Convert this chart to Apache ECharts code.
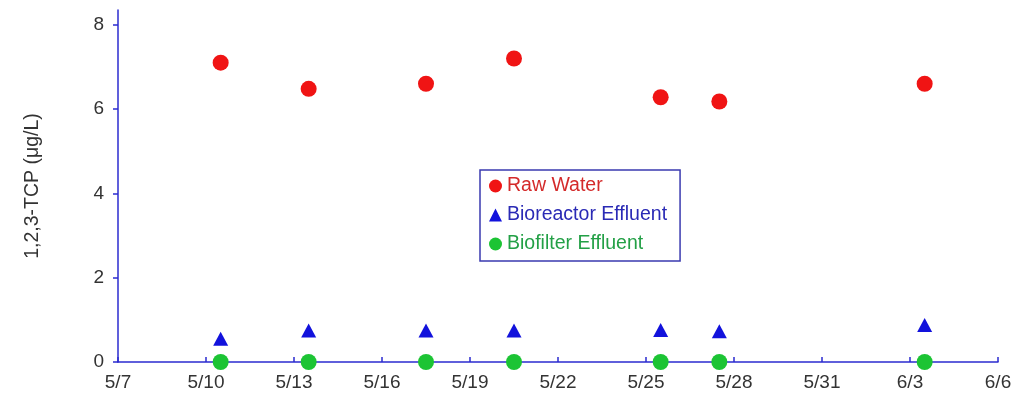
<!DOCTYPE html>
<html><head><meta charset="utf-8">
<script src="https://cdn.jsdelivr.net/npm/echarts@6/dist/echarts.min.js"></script>
<style>html,body{margin:0;padding:0;background:#fff}#c{width:1015px;height:396px}</style>
</head><body><div id="c"></div>
<script>
// sampling dates (month/day), samples taken around midday
const sampleDates = ['5/10','5/13','5/17','5/20','5/25','5/27','6/3'];
const sampleHour = 12;
const rawWater = [7.1, 6.48, 6.6, 7.2, 6.28, 6.18, 6.6];
const bioreactorEffluent = [0.55, 0.75, 0.75, 0.75, 0.76, 0.73, 0.88];
const biofilterEffluent = [0, 0, 0, 0, 0, 0, 0];
const xTickLabels = ['5/7','5/10','5/13','5/16','5/19','5/22','5/25','5/28','5/31','6/3','6/6'];
const yTickValues = [0, 2, 4, 6, 8];
const startDate = '5/7';

function dayOffset(md) {
  const [m, d] = md.split('/').map(Number);
  const [m0, d0] = startDate.split('/').map(Number);
  return (Date.UTC(2000, m - 1, d) - Date.UTC(2000, m0 - 1, d0)) / 86400000;
}
const xs = sampleDates.map(d => dayOffset(d) + sampleHour / 24);
const pts = arr => arr.map((v, i) => [xs[i], v]);

const blue = '#2b2bcf';
const font = 'Liberation Sans, Arial';
const chart = echarts.init(document.getElementById('c'));
chart.setOption({
  animation: false,
  backgroundColor: '#fff',
  grid: { left: 118, right: 17, top: 10, bottom: 34 },
  xAxis: {
    type: 'value', min: 0, max: 30, interval: 3,
    axisLine: { lineStyle: { color: blue, width: 1.5 } },
    axisTick: { show: true, inside: true, length: 5, lineStyle: { color: blue, width: 1.5 } },
    splitLine: { show: false },
    axisLabel: { color: '#333', fontSize: 19, fontFamily: font, margin: 11,
      formatter: v => xTickLabels[Math.round(v / 3)] || '' }
  },
  yAxis: {
    type: 'value', min: 0, max: 8.35,
    name: '1,2,3-TCP (μg/L)', nameLocation: 'middle', nameGap: 75,
    nameTextStyle: { color: '#333', fontSize: 19.5, fontFamily: font },
    axisLine: { show: true, lineStyle: { color: blue, width: 1.5 } },
    axisTick: { show: true, length: 5, customValues: yTickValues, lineStyle: { color: blue, width: 1.5 } },
    splitLine: { show: false },
    axisLabel: { color: '#333', fontSize: 19, fontFamily: font, margin: 14,
      customValues: yTickValues }
  },
  legend: {
    orient: 'vertical', left: 480, top: 170,
    borderColor: '#3a3ab0', borderWidth: 1.5, padding: [6, 13, 7, 9],
    itemGap: 9, itemWidth: 13, itemHeight: 13,
    textStyle: { fontSize: 19.5, fontFamily: font, padding: [0, 0, 0, 0] },
    data: [
      { name: 'Raw Water', textStyle: { color: '#d42a2a' } },
      { name: 'Bioreactor Effluent', textStyle: { color: '#2a2ab5' } },
      { name: 'Biofilter Effluent', textStyle: { color: '#23a046' } }
    ]
  },
  series: [
    { name: 'Raw Water', type: 'scatter', symbol: 'circle', symbolSize: 16,
      itemStyle: { color: '#f01414', opacity: 1 }, data: pts(rawWater) },
    { name: 'Bioreactor Effluent', type: 'scatter', symbol: 'triangle', symbolSize: [15, 14],
      itemStyle: { color: '#1212dc', opacity: 1 }, data: pts(bioreactorEffluent) },
    { name: 'Biofilter Effluent', type: 'scatter', symbol: 'circle', symbolSize: 16,
      itemStyle: { color: '#1cc434', opacity: 1 }, data: pts(biofilterEffluent), z: 3 }
  ]
});
</script></body></html>
